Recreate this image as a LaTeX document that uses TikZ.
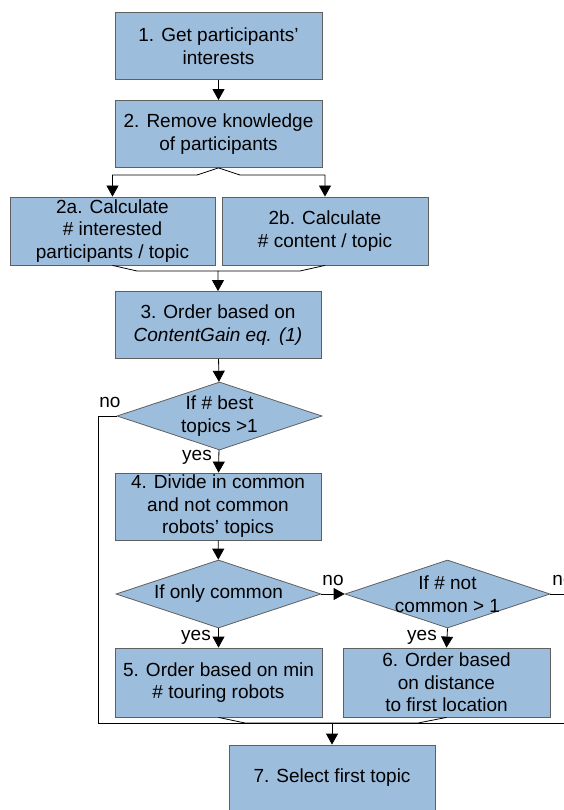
\documentclass[tikz,border=0pt]{standalone}
\usepackage{fontspec}
\setmainfont{Liberation Sans}
\usepackage{tikz}
\usetikzlibrary{shapes.geometric,arrows.meta}
\definecolor{boxblue}{RGB}{157,189,220}
\definecolor{boxline}{RGB}{95,95,95}

\begin{document}
\begin{tikzpicture}[x=1pt,y=-1pt,line width=0.8pt,
  every node/.style={font=\fontsize{19}{22.5}\selectfont},
  stepbox/.style={draw=boxline,fill=boxblue,minimum width=207pt,minimum height=67pt,align=center,inner sep=1pt},
  test/.style={diamond,draw=boxline,fill=boxblue,minimum width=205pt,minimum height=68pt,align=center,inner sep=-12pt,shape aspect=3},
  answer/.style={inner sep=0pt},
  flow/.style={-{Triangle[width=12pt,length=11pt]}}]
\useasboundingbox (0,0) rectangle (564,810);
\clip (0,0) rectangle (564,810);

\node[stepbox] (b1) at (218.5,46) {1. Get participants'\\interests};
\node[stepbox] (b2) at (218.5,134) {2. Remove knowledge\\of participants};
\node[stepbox,minimum width=205pt,minimum height=68pt] (b2a) at (112.5,231) {2a. Calculate\\\# interested\\participants / topic};
\node[stepbox,minimum width=206pt,minimum height=68pt] (b2b) at (325,231) {2b. Calculate\\\# content / topic};
\node[stepbox,minimum width=206pt] (b3) at (218,325) {3. Order based on\\\textit{ContentGain eq. (1)}};
\node[test] (d1) at (219.5,416) {If \# best\\topics >1};
\node[stepbox,minimum width=206pt] (b4) at (218,506.5) {4. Divide in common\\and not common\\robots' topics};
\node[test] (d2) at (218.5,594) {If only common};
\node[test] (d3) at (447.5,594) {If \# not\\common > 1};
\node[stepbox,minimum height=69pt] (b5) at (218.5,682.5) {5. Order based on min\\\# touring robots};
\node[stepbox,minimum height=69pt] (b6) at (446.5,682.5) {6. Order based\\on distance\\to first location};
\node[stepbox,minimum width=206pt,minimum height=66pt] (b7) at (332,778) {7. Select first topic};

\node[answer] (no1) at (110,402) {no};
\node[answer] (yes1) at (197,457) {yes};
\node[answer] (no2) at (333,580) {no};
\node[answer] (no3) at (563,580) {no};
\node[answer] (yes2) at (196,637) {yes};
\node[answer] (yes3) at (422,637) {yes};

\coordinate (fl) at (197,175);
\coordinate (fr) at (240,175);
\coordinate (jl) at (137,271);
\coordinate (jr) at (300,271);
\coordinate (nb) at (98,723);
\coordinate (mrg) at (332,723);
\coordinate (c5) at (245,723);
\coordinate (c6) at (418,723);
\coordinate (re) at (564,723);
\coordinate (rd) at (564,594);

\draw[flow] (b1) -- (b2);
\draw[flow] (b2.south) -- (fl) -| (b2a.north);
\draw[flow] (b2.south) -- (fr) -| (b2b.north);
\draw (b2a.south) -- (jl) -- (b3.north |- jl);
\draw[flow] (b2b.south) -- (jr) -| (b3.north);
\draw[flow] (b3) -- (d1);
\draw[flow] (d1) -- (b4);
\draw[flow] (b4) -- (d2);
\draw[flow] (d2.east) -- (d3.west);
\draw[flow] (d2.south) -- (b5.north);
\draw[flow] (d3.south) -- (b6.north);
\draw (d3.east) -- (rd);
\draw (d1.west) -| (nb) -- (mrg);
\draw (re) -- (mrg);
\draw (b5.south) -- (c5) -- (mrg);
\draw (b6.south) -- (c6) -- (mrg);
\draw[flow] (mrg) -- (b7.north);
\end{tikzpicture}
\end{document}
